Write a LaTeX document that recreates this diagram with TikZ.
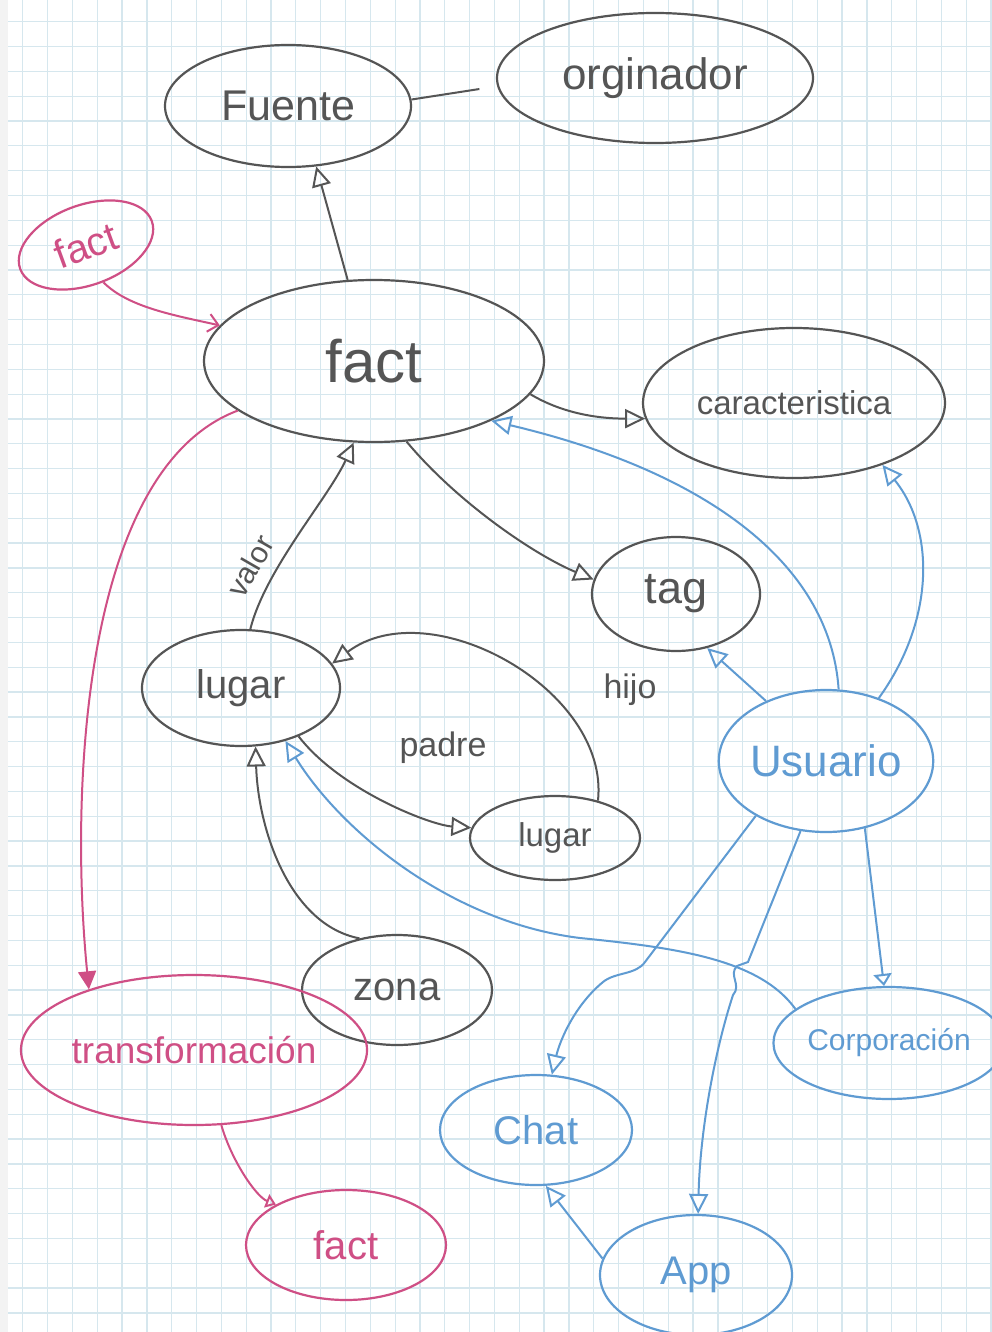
\documentclass[tikz,border=0pt]{standalone}
\usepackage{fontspec}
\setmainfont{Liberation Sans}
\usetikzlibrary{shapes.geometric,arrows.meta}
\definecolor{pencil}{HTML}{555555}
\definecolor{pinkink}{HTML}{CF4F85}
\definecolor{blueink}{HTML}{5F9BD2}
\definecolor{gridblue}{HTML}{D6E7EE}
\definecolor{margin}{HTML}{F3F3F3}

\begin{document}
\begin{tikzpicture}[x=1pt,y=-1pt,
  fs/.style={font=\fontsize{#1}{#1}\selectfont},
  bubble/.style={ellipse, line width=2.2pt, inner sep=0pt},
  gnode/.style={bubble, draw=pencil, text=pencil},
  pnode/.style={bubble, draw=pinkink, text=pinkink},
  bnode/.style={bubble, draw=blueink, text=blueink},
  glink/.style={line width=2pt, draw=pencil},
  plink/.style={line width=2pt, draw=pinkink},
  blink/.style={line width=2pt, draw=blueink},
  opentip/.style={-{Triangle[open,length=20pt,width=19pt]}},
  smalltip/.style={-{Triangle[open,length=12pt,width=18pt]}},
  gridline/.style={draw=gridblue, line width=1.3pt},
  edgelabel/.style={text=pencil}
]
% squared paper
\useasboundingbox (0,0) rectangle (991,1332);
\fill[white] (0,0) rectangle (991,1332);
\foreach \i in {0,...,39} \draw[gridline] ({22.7+24.83*\i},0) -- ({22.7+24.83*\i},1332);
\foreach \j in {0,...,52} \draw[gridline] (0,{21.7+24.83*\j}) -- (991,{21.7+24.83*\j});
\fill[margin] (0,0) rectangle (8,1332);

% grey entities
\node[gnode, minimum width=246pt, minimum height=122pt, fs=43] (fuente) at (288,106) {Fuente};
\node[gnode, minimum width=316pt, minimum height=130pt, fs=44] (orig) at (655,78) {orginador};
\node[gnode, minimum width=340pt, minimum height=162pt, fs=60] (fact) at (374,361) {fact};
\node[gnode, minimum width=302pt, minimum height=150pt, fs=33] (carac) at (794,403) {caracteristica};
\node[gnode, minimum width=168pt, minimum height=114pt, fs=45] (tag) at (676,594) {tag};
\node[gnode, minimum width=198pt, minimum height=116pt, fs=40] (lugar) at (241,688) {lugar};
\node[gnode, minimum width=170pt, minimum height=84pt, fs=33] (lugar2) at (555,838) {lugar};
\node[gnode, minimum width=190pt, minimum height=110pt, fs=40] (zona) at (397,990) {zona};

% pink entities
\node[pnode, minimum width=140pt, minimum height=80pt, rotate=20, fs=40] (factp) at (86,245) {fact};
\node[pnode, minimum width=298pt, minimum height=150pt, fs=37] (transf) at (194,1050) {transformación};
\node[pnode, minimum width=200pt, minimum height=110pt, fs=40] (factb) at (346,1245) {fact};

% blue entities
\node[bnode, minimum width=212pt, minimum height=142pt, fs=44] (usuario) at (826,761) {Usuario};
\node[bnode, minimum width=192pt, minimum height=112pt, fs=30] (corp) at (889,1043) {Corporación};
\node[bnode, minimum width=192pt, minimum height=110pt, fs=40] (chat) at (536,1130) {Chat};
\node[bnode, minimum width=192pt, minimum height=120pt, fs=40] (app) at (696,1275) {App};

% grey relations
\draw[glink, opentip] (fact.108) -- (fuente.-65);
\draw[glink, shorten >=18pt] (fuente.3) -- (orig.183);
\draw[glink, opentip] (fact.-12) .. controls +(30,18) and +(-50,0) .. (carac.186);
\draw[glink, opentip] (fact.-68) .. controls +(50,60) and +(-60,-25) .. (tag.170);
\draw[glink, opentip] (lugar.81) .. controls +(15,-60) and +(-25,55) .. (fact.256);
\node[edgelabel, fs=30, rotate=60] (valor) at (250,566) {valor};
\draw[glink, opentip] (lugar2.41) .. controls (610,690) and (430,590) .. (lugar.15);
\node[edgelabel, fs=34] (hijo) at (630,690) {hijo};
\draw[glink, opentip] (lugar.-40) .. controls (340,790) and (430,825) .. (lugar2.173);
\node[edgelabel, fs=34] (padre) at (443,748) {padre};
\draw[glink, opentip] (zona.126) .. controls (290,925) and (258,830) .. (lugar.-76);

% pink relations
\draw[plink, -{Straight Barb[length=10pt,width=18pt]}] (factp.-85) .. controls +(25,25) and +(-45,-10) .. (fact.167);
\draw[plink, -{Triangle[length=18pt,width=18pt]}] (fact.200) .. controls (80,470) and (70,800) .. (transf.150);
\draw[plink, -{Triangle[open,length=10pt,width=14pt]}] (transf.-70) .. controls +(10,35) and +(-20,-8) .. (factb.150);

% blue relations
\draw[blink, opentip] (usuario.80) .. controls (830,560) and (700,470) .. (fact.-27.5);
\draw[blink, opentip] (usuario.50) .. controls (935,620) and (935,530) .. (carac.-35);
\draw[blink, opentip] (usuario.135) -- (tag.-60);
\draw[blink, opentip] (corp.160) .. controls (760,960) and (680,948) .. (580,938)
  .. controls (450,922) and (340,830) .. (lugar.-50);
\draw[blink, opentip] (usuario.218) -- (645,962) .. controls (636,975) and (615,972) .. (603,982)
  .. controls (575,1005) and (560,1040) .. (chat.74);
\draw[blink, opentip] (usuario.250) -- (748,962) -- (737,966) .. controls (728,975) and (742,985) .. (733,995)
  .. controls (715,1050) and (700,1130) .. (app.88);
\draw[blink, smalltip] (usuario.-60) -- (corp.95);
\draw[blink, opentip] (app.170) -- (chat.-80);
\end{tikzpicture}
\end{document}
